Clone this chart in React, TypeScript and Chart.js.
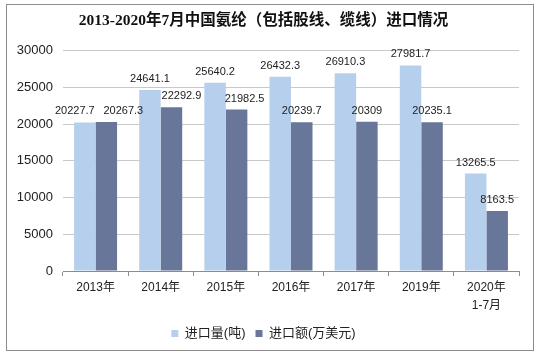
import React, { useEffect, useRef } from "react";
import { Chart, registerables } from "chart.js";

Chart.register(...registerables);

const categories: (string | string[])[] = ["2013年", "2014年", "2015年", "2016年", "2017年", "2019年", ["2020年", "1-7月"]];
const importVolume = [20227.7, 24641.1, 25640.2, 26432.3, 26910.3, 27981.7, 13265.5];
const importValue = [20267.3, 22292.9, 21982.5, 20239.7, 20309, 20235.1, 8163.5];
const seriesNames = ["进口量(吨)", "进口额(万美元)"];
const titleText = "2013-2020年7月中国氨纶（包括股线、缆线）进口情况";

// horizontal nudges of the value labels (as placed in the original), per series
const labelNudgeVolume = [-10, 0, 0, 0, 0, 0, 0];
const labelNudgeValue = [17, 10, 8, 0, 0, 0, 0];

const SANS = "'Liberation Sans', 'Noto Sans CJK SC', sans-serif";

const decorPlugin = {
  id: "decor",
  beforeDraw(chart: any) {
    const ctx = chart.ctx;
    ctx.save();
    ctx.fillStyle = "#ffffff";
    ctx.fillRect(0, 0, chart.width, chart.height);
    ctx.strokeStyle = "#8c8c8c";
    ctx.lineWidth = 1;
    ctx.strokeRect(6.5, 4.5, 527, 346);
    ctx.restore();
  },
  afterDatasetsDraw(chart: any) {
    const ctx = chart.ctx;
    const nudges = [labelNudgeVolume, labelNudgeValue];
    ctx.save();
    ctx.font = "11px " + SANS;
    ctx.fillStyle = "#222222";
    ctx.textAlign = "center";
    ctx.textBaseline = "alphabetic";
    chart.data.datasets.forEach((ds: any, i: number) => {
      const meta = chart.getDatasetMeta(i);
      meta.data.forEach((bar: any, j: number) => {
        ctx.fillText(String(ds.data[j]), bar.x + nudges[i][j], bar.y - 8);
      });
    });
    ctx.restore();
  },
};

export default function App() {
  const ref = useRef<HTMLCanvasElement | null>(null);
  useEffect(() => {
    document.body.style.margin = "0";
    const chart = new Chart(ref.current as HTMLCanvasElement, {
      type: "bar",
      data: {
        labels: categories,
        datasets: [
          { label: seriesNames[0], data: importVolume, backgroundColor: "#b5cfec" },
          { label: seriesNames[1], data: importValue, backgroundColor: "#687699" },
        ],
      },
      options: {
        responsive: false,
        animation: false,
        layout: { padding: { left: 8, right: 21, top: 4, bottom: 7 } },
        datasets: { bar: { categoryPercentage: 0.66, barPercentage: 1 } },
        scales: {
          x: {
            grid: { offset: true, drawOnChartArea: false, tickLength: 5, color: "#8c8c8c" },
            border: { color: "#8c8c8c" },
            ticks: { font: { size: 12, family: SANS, lineHeight: 1.5 }, color: "#222", padding: 3, maxRotation: 0, autoSkip: false },
            afterFit: (s: any) => { s.height = 46; },
          },
          y: {
            min: 0,
            max: 30000,
            grid: { color: "#c8c8c8", drawTicks: false },
            border: { display: false },
            ticks: {
              stepSize: 5000,
              font: { size: 13, family: SANS },
              color: "#222",
              padding: 10,
              callback: (v: any) => String(v),
            },
            afterFit: (s: any) => { s.width = 55; },
          },
        },
        plugins: {
          title: {
            display: true,
            text: titleText,
            font: { size: 15.5, weight: "bold", family: "'Liberation Serif', 'Noto Sans CJK SC', serif" },
            color: "#111",
            padding: { top: 8, bottom: 20 },
          },
          legend: {
            position: "bottom",
            labels: { boxWidth: 7, boxHeight: 7, font: { size: 13, family: SANS }, color: "#222", padding: 10 },
          },
          tooltip: { enabled: false },
        },
      },
      plugins: [decorPlugin],
    });
    return () => chart.destroy();
  }, []);
  return <canvas ref={ref} width={540} height={357} style={{ display: "block" }} />;
}
